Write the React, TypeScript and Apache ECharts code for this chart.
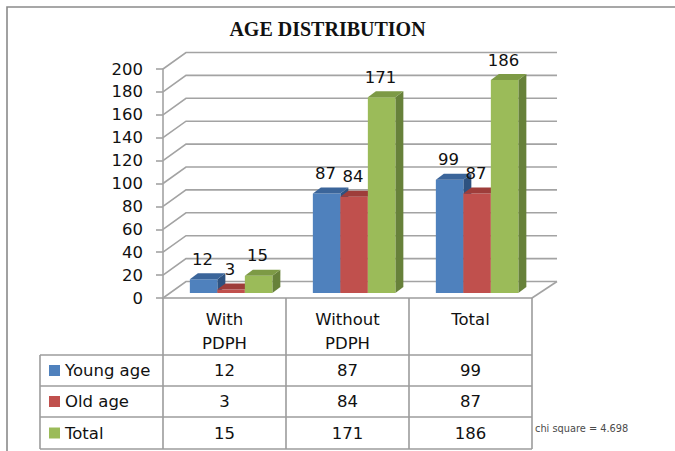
import React, { useEffect, useRef } from "react";
import * as echarts from "echarts";

// ---- data ----
const title = "AGE DISTRIBUTION";
const categories = ["With\nPDPH", "Without\nPDPH", "Total"];
const seriesNames = ["Young age", "Old age", "Total"];
const youngAge = [12, 87, 99];
const oldAge = [3, 84, 87];
const totals = [15, 171, 186];
const yTicks = [0, 20, 40, 60, 80, 100, 120, 140, 160, 180, 200];
const chiSquareNote = "chi square = 4.698";

// ---- styles ----
const frontColors = ["#4F81BD", "#C0504D", "#9BBB59"];
const topColors = ["#3B659A", "#9E3D3A", "#7D9A45"];
const sideColors = ["#2E5280", "#873230", "#67813A"];
const GRID_COLOR = "#a3a3a3";
const TABLE_COLOR = "#9c9c9c";
const FONT = "DejaVu Sans";
const FS = 16.5;

// 3D geometry
const WALL_DX = 23;
const WALL_DY = -16.5;
const BAR_W = 27.5;
const FRONT_DX = 6.6;
const FRONT_DY = -5;
const BD_X = 8;
const BD_Y = 6;

// table layout (rows under the plot)
const rowLines = [355, 386, 417, 449];
const rowCenters = [370.5, 401.5, 433];
const tableLeft = 40;
const tableRight = 532;

export default function App() {
  const ref = useRef<HTMLDivElement>(null);

  useEffect(() => {
    const chart = echarts.init(ref.current!, null, { renderer: "svg" });
    const rows = [youngAge, oldAge, totals];

    const makeBarSeries = (k: number, values: number[]) => ({
      type: "custom",
      name: seriesNames[k],
      z: 3,
      data: values.map((v, i) => [i, v]),
      encode: { x: 0, y: 1 },
      renderItem: (params: any, api: any) => {
        const ci = api.value(0);
        const v = api.value(1);
        const base = api.coord([ci, 0]);
        const top = api.coord([ci, v]);
        const x0 = base[0] + (k - 1.5) * BAR_W + FRONT_DX;
        const x1 = x0 + BAR_W;
        const yb = base[1] + FRONT_DY;
        const yt = top[1] + FRONT_DY;
        return {
          type: "group",
          children: [
            {
              type: "polygon",
              shape: { points: [[x1, yt], [x1 + BD_X, yt - BD_Y], [x1 + BD_X, yb - BD_Y], [x1, yb]] },
              style: { fill: sideColors[k] },
            },
            {
              type: "rect",
              shape: { x: x0, y: yt, width: BAR_W, height: yb - yt },
              style: { fill: frontColors[k] },
            },
            {
              type: "polygon",
              shape: { points: [[x0, yt], [x1, yt], [x1 + BD_X, yt - BD_Y], [x0 + BD_X, yt - BD_Y]] },
              style: { fill: topColors[k] },
            },
            {
              type: "text",
              z2: 100,
              style: {
                text: String(v),
                x: (x0 + x1) / 2 - 1,
                y: yt - 20,
                fill: "#111",
                fontSize: FS,
                fontFamily: FONT,
                align: "center",
                verticalAlign: "middle",
                textAlign: "center",
                textVerticalAlign: "middle",
              },
            },
          ],
        };
      },
    });

    const gridSeries = {
      type: "custom",
      name: "walls",
      z: 1,
      silent: true,
      data: yTicks.map((t) => [0, t]),
      encode: { x: 0, y: 1 },
      renderItem: (params: any, api: any) => {
        const v = api.value(1);
        const y = api.coord([0, v])[1];
        const cs = params.coordSys;
        const gx0 = cs.x;
        const gx1 = cs.x + cs.width;
        const children: any[] = [
          {
            type: "polyline",
            shape: { points: [[gx0, y], [gx0 + WALL_DX, y + WALL_DY], [gx1 + WALL_DX + 2, y + WALL_DY]] },
            style: { stroke: GRID_COLOR, lineWidth: 1.6, fill: null },
          },
        ];
        if (v === 0) {
          children.push({
            type: "line",
            shape: { x1: gx1, y1: y, x2: gx1 + WALL_DX + 2, y2: y + WALL_DY },
            style: { stroke: GRID_COLOR, lineWidth: 1.6 },
          });
        }
        return { type: "group", children };
      },
    };

    const tableSeries = {
      type: "custom",
      name: "table",
      z: 4,
      silent: true,
      data: categories.map((_, i) => [i, 0]),
      encode: { x: 0, y: 1 },
      renderItem: (params: any, api: any) => {
        const ci = api.value(0);
        const cx = api.coord([ci, 0])[0];
        return {
          type: "group",
          children: rows.map((arr, r) => ({
            type: "text",
            style: {
              text: String(arr[ci]),
              x: cx,
              y: rowCenters[r],
              fill: "#111",
              fontSize: FS,
              fontFamily: FONT,
              align: "center",
              verticalAlign: "middle",
              textAlign: "center",
              textVerticalAlign: "middle",
            },
          })),
        };
      },
    };

    const graphics: any[] = [
      {
        type: "rect",
        z: 0,
        silent: true,
        shape: { x: 7, y: 7, width: 720, height: 520 },
        style: { fill: "none", stroke: "#8a8a8a", lineWidth: 1.6 },
      },
      {
        type: "text",
        z: 10,
        style: {
          text: title,
          x: 327.5,
          y: 29,
          fill: "#111",
          fontSize: 20,
          fontWeight: "bold",
          fontFamily: "Liberation Serif",
          align: "center",
          verticalAlign: "middle",
          textAlign: "center",
          textVerticalAlign: "middle",
        },
      },
      ...rowLines.map((y) => ({
        type: "line",
        z: 4,
        shape: { x1: tableLeft, y1: y, x2: tableRight, y2: y },
        style: { stroke: TABLE_COLOR, lineWidth: 1.6 },
      })),
      {
        type: "line",
        z: 4,
        shape: { x1: tableLeft, y1: rowLines[0], x2: tableLeft, y2: rowLines[rowLines.length - 1] },
        style: { stroke: TABLE_COLOR, lineWidth: 1.6 },
      },
      ...seriesNames.flatMap((name, r) => [
        {
          type: "rect",
          z: 4,
          shape: { x: 49, y: rowCenters[r] - 5.5, width: 11, height: 11 },
          style: { fill: frontColors[r] },
        },
        {
          type: "text",
          z: 4,
          style: {
            text: name,
            x: 65,
            y: rowCenters[r],
            fill: "#111",
            fontSize: FS,
            fontFamily: FONT,
            align: "left",
            verticalAlign: "middle",
            textAlign: "left",
            textVerticalAlign: "middle",
          },
        },
      ]),
      {
        type: "text",
        z: 4,
        style: {
          text: chiSquareNote,
          x: 535,
          y: 428,
          fill: "#4a4a4a",
          fontSize: 9.8,
          fontFamily: FONT,
          align: "left",
          verticalAlign: "middle",
          textAlign: "left",
          textVerticalAlign: "middle",
        },
      },
    ];

    const option: any = {
      animation: false,
      backgroundColor: "#fff",
      grid: { left: 163, top: 69, width: 369, height: 229, containLabel: false },
      xAxis: {
        type: "category",
        data: categories,
        boundaryGap: true,
        axisLine: { show: true, lineStyle: { color: TABLE_COLOR, width: 1.6 } },
        axisTick: { show: true, length: 151, interval: 0, lineStyle: { color: TABLE_COLOR, width: 1.6 } },
        axisLabel: {
          interval: 0,
          margin: 9,
          fontSize: FS,
          lineHeight: 24,
          fontFamily: FONT,
          color: "#111",
        },
        splitLine: { show: false },
      },
      yAxis: {
        type: "value",
        min: 0,
        max: 200,
        interval: 20,
        axisLine: { show: true, lineStyle: { color: GRID_COLOR, width: 1.6 } },
        axisTick: { show: true, length: 7, lineStyle: { color: GRID_COLOR, width: 1.6 } },
        axisLabel: { margin: 20, fontSize: FS, fontFamily: FONT, color: "#111" },
        splitLine: { show: false },
      },
      series: [
        gridSeries,
        makeBarSeries(0, youngAge),
        makeBarSeries(1, oldAge),
        makeBarSeries(2, totals),
        tableSeries,
      ],
      graphic: graphics,
    };

    chart.setOption(option);
    return () => chart.dispose();
  }, []);

  return (
    <div
      ref={ref}
      style={{ position: "fixed", left: 0, top: 0, width: 675, height: 451, background: "#fff" }}
    />
  );
}
